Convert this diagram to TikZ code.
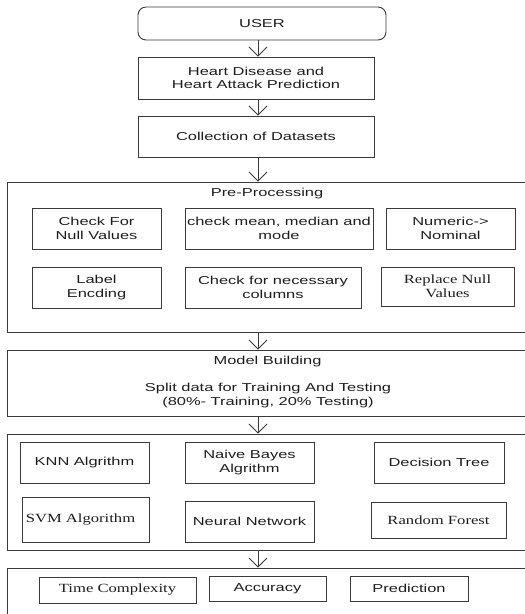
\documentclass[tikz,border=0pt]{standalone}
\usepackage{fontspec}
\setmainfont[FakeStretch=1.43]{Liberation Sans}
\newfontfamily\serifw[FakeStretch=1.33]{Liberation Serif}
\usetikzlibrary{arrows.meta}
\definecolor{lc}{HTML}{3A3A3A}
\definecolor{tc}{HTML}{1E1E1E}
\begin{document}
\begin{tikzpicture}[x=1pt,y=-1pt,
  bx/.style={draw=lc, line width=0.9pt, inner sep=0pt, align=center, text=tc,
    font=\fontsize{11.5}{13.5}\selectfont},
  sbx/.style={bx, font=\serifw\fontsize{12.5}{14}\selectfont},
  lbl/.style={inner sep=0pt, align=center, text=tc, font=\fontsize{11.5}{14.5}\selectfont},
  arr/.style={-{Straight Barb[length=9pt,width=18pt]}, draw=lc, line width=0.9pt}]
\useasboundingbox (0,0) rectangle (525,614);
\clip (0,0) rectangle (525,614);
\fill[white] (0,0) rectangle (525,614);
\coordinate (ax) at (258,0);
% top chain
\node[bx, rounded corners=8pt, minimum width=248pt, minimum height=33pt] (user) at (262,23.5) {USER};
\node[bx, minimum width=236pt, minimum height=42pt] (hd) at (256,78) {Heart Disease and\\Heart Attack Prediction};
\node[bx, minimum width=236pt, minimum height=41pt] (col) at (256,136.5) {Collection of Datasets};
% pre-processing
\node[bx, minimum width=533pt, minimum height=150pt] (pre) at (273.5,257) {};
\node[lbl] (pret) at (267,194) {Pre-Processing};
\node[bx, minimum width=129pt, minimum height=41pt] (cn) at (96.5,228.5) {Check For\\Null Values};
\node[bx, minimum width=188pt, minimum height=41pt] (cm) at (279,228.5) {check mean, median and\\mode};
\node[bx, minimum width=129pt, minimum height=41pt] (nn) at (450.5,228.5) {Numeric-{>}\\Nominal};
\node[bx, minimum width=129pt, minimum height=41pt] (le) at (96.5,287.5) {Label\\Encding};
\node[bx, minimum width=176pt, minimum height=41pt] (cc) at (273,287.5) {Check for necessary\\columns};
\node[sbx, minimum width=133pt, minimum height=39pt] (rn) at (447.5,286.5) {Replace Null\\Values};
% model building
\node[bx, minimum width=533pt, minimum height=66pt] (model) at (273.5,383) {};
\node[lbl] (mt) at (267.5,362) {Model Building};
\node[lbl] (ms) at (268,395.5) {Split data for Training And Testing\\(80\%- Training, 20\% Testing)};
% algorithms
\node[bx, minimum width=533pt, minimum height=116pt] (algo) at (273.5,492) {};
\node[bx, minimum width=129pt, minimum height=41pt] (knn) at (84.5,462.5) {KNN Algrithm};
\node[bx, minimum width=129pt, minimum height=41pt] (nb) at (249.5,462.5) {Naive Bayes\\Algrithm};
\node[bx, minimum width=130pt, minimum height=41pt] (dt) at (439,462.5) {Decision Tree};
\node[sbx, minimum width=127pt, minimum height=45pt] (svm) at (85.5,519.5) {};
\node[inner sep=0pt, text=tc, font=\serifw\fontsize{12.5}{14}\selectfont] (svmt) at (80.5,519.5) {SVM Algorithm};
\node[bx, minimum width=129pt, minimum height=41pt] (nw) at (249.5,521.5) {Neural Network};
\node[sbx, minimum width=135pt, minimum height=36pt] (rf) at (438.5,520) {Random Forest};
% evaluation
\node[bx, minimum width=533pt, minimum height=72pt] (eval) at (273.5,604) {};
\node[sbx, minimum width=157pt, minimum height=26pt] (tcx) at (117.5,590) {Time Complexity};
\node[bx, minimum width=117pt, minimum height=25pt] (acc) at (267.5,588.5) {Accuracy};
\node[bx, minimum width=118pt, minimum height=25pt] (pred) at (409,588.5) {Prediction};
% arrows
\draw[arr] (user.south -| ax) -- (hd.north -| ax);
\draw[arr] (hd.south -| ax) -- (col.north -| ax);
\draw[arr] (col.south -| ax) -- (pre.north -| ax);
\draw[arr] (pre.south -| ax) -- (model.north -| ax);
\draw[arr] (model.south -| ax) -- (algo.north -| ax);
\draw[arr] (algo.south -| ax) -- (eval.north -| ax);
\end{tikzpicture}
\end{document}
